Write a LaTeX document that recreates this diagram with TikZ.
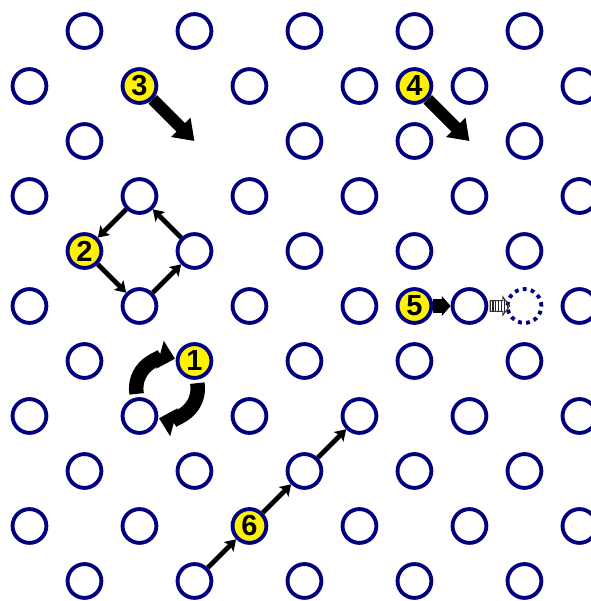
\documentclass[tikz,border=0pt]{standalone}
\usepackage{fontspec}
\setmainfont{Liberation Sans}
\usepackage{xcolor}
\usepackage{tikz}
\usetikzlibrary{arrows.meta,calc,patterns.meta}
\definecolor{navy}{RGB}{0,0,128}

\begin{document}
\begin{tikzpicture}[x=1cm, y=1cm,
  site/.style={circle, draw=navy, line width=2pt, fill=white,
               minimum size=6.15mm, inner sep=0pt},
  mover/.style={site, fill=yellow, font=\fontsize{15}{15}\selectfont\bfseries},
  gap/.style={site, fill=none, dash pattern=on 2pt off 2.2pt},
  hop/.style={-{Stealth[length=5.5pt, width=7pt, inset=1.2pt]}, line width=2.5pt},
  jump/.style={-{Triangle[length=10pt, width=13.5pt]}, line width=6.2pt},
  swirl/.style={-{Triangle[length=8pt, width=14.5pt]}, line width=7.5pt},
  push/.style={-{Triangle[length=4.5pt, width=10pt]}, line width=6.8pt},
  hatch/.style={draw=black!80, line width=0.5pt,
                pattern={Lines[angle=90, distance=1.5pt, line width=0.7pt]},
                pattern color=black!85}]
\clip (-0.536,0.564) rectangle (10.209,-10.364);

% lattice sites, one row per entry
\foreach \k/\row in {0/{1,3,5,7,9}, 1/{0,4,6,8,10}, 2/{1,5,7,9},
    3/{0,2,4,6,8,10}, 4/{3,5,7,9}, 5/{0,2,4,6,8,10}, 6/{1,5,7,9},
    7/{0,2,4,6,8,10}, 8/{1,3,5,7,9}, 9/{0,2,6,8,10}, 10/{1,3,5,7,9}}
  \foreach \i in \row
    \node[site] (s\i-\k) at (\i,-\k) {};

% moving atoms
\node[mover] (n1) at (3,-6) {1};
\node[mover] (n2) at (1,-4) {2};
\node[mover] (n3) at (2,-1) {3};
\node[mover] (n4) at (7,-1) {4};
\node[mover] (n5) at (7,-5) {5};
\node[mover] (n6) at (4,-9) {6};
\node[gap] (g5) at (9,-5) {};
\coordinate (v3) at (3,-2);
\coordinate (v4) at (8,-2);
\coordinate (c1) at ($(n1)!0.5!(s2-7)$);

\draw[jump] (n3) -- (v3);
\draw[jump] (n4) -- (v4);

\draw[hop] (s2-3) -- (n2);
\draw[hop] (n2) -- (s2-5);
\draw[hop] (s2-5) -- (s3-4);
\draw[hop] (s3-4) -- (s2-3);

\draw[swirl] ([shift={(190:0.56)}]c1) arc[start angle=190, end angle=75, radius=0.56];
\draw[swirl] ([shift={(10:0.56)}]c1) arc[start angle=10, end angle=-105, radius=0.56];

\draw[push] (n5) -- (s8-5);
\draw[hatch] ([xshift=1pt, yshift=2.8pt]s8-5.east) -- ++(6.5pt,0) -- ++(0,2pt)
  -- ++(3.5pt,-4.8pt) -- ++(-3.5pt,-4.8pt) -- ++(0,2pt) -- ++(-6.5pt,0) -- cycle;

\draw[hop] (s3-10) -- (n6);
\draw[hop] (n6) -- (s5-8);
\draw[hop] (s5-8) -- (s6-7);
\end{tikzpicture}
\end{document}
